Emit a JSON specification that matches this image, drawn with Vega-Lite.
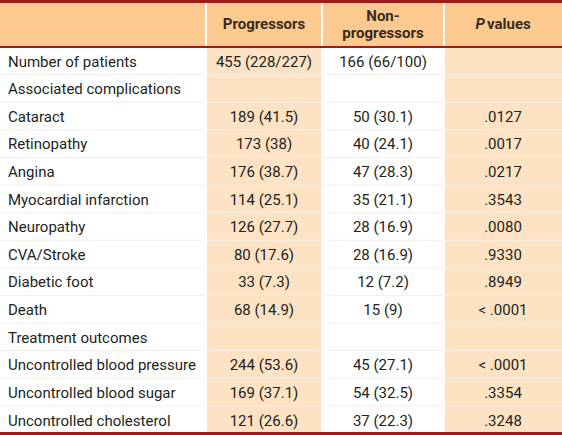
{
  "$schema": "https://vega.github.io/schema/vega-lite/v6.json",
  "width": 562,
  "height": 435,
  "padding": 0,
  "autosize": {"type": "none"},
  "background": "white",
  "config": {
    "view": {"stroke": null},
    "text": {"font": "Roboto", "fontSize": 15, "color": "#231f20"}
  },
  "data": {
    "values": [
      {"item": "Number of patients", "progressors": "455 (228/227)", "nonprogressors": "166 (66/100)", "p": ""},
      {"item": "Associated complications", "progressors": "", "nonprogressors": "", "p": ""},
      {"item": "Cataract", "progressors": "189 (41.5)", "nonprogressors": "50 (30.1)", "p": ".0127"},
      {"item": "Retinopathy", "progressors": "173 (38)", "nonprogressors": "40 (24.1)", "p": ".0017"},
      {"item": "Angina", "progressors": "176 (38.7)", "nonprogressors": "47 (28.3)", "p": ".0217"},
      {"item": "Myocardial infarction", "progressors": "114 (25.1)", "nonprogressors": "35 (21.1)", "p": ".3543"},
      {"item": "Neuropathy", "progressors": "126 (27.7)", "nonprogressors": "28 (16.9)", "p": ".0080"},
      {"item": "CVA/Stroke", "progressors": "80 (17.6)", "nonprogressors": "28 (16.9)", "p": ".9330"},
      {"item": "Diabetic foot", "progressors": "33 (7.3)", "nonprogressors": "12 (7.2)", "p": ".8949"},
      {"item": "Death", "progressors": "68 (14.9)", "nonprogressors": "15 (9)", "p": "< .0001"},
      {"item": "Treatment outcomes", "progressors": "", "nonprogressors": "", "p": ""},
      {"item": "Uncontrolled blood pressure", "progressors": "244 (53.6)", "nonprogressors": "45 (27.1)", "p": "< .0001"},
      {"item": "Uncontrolled blood sugar", "progressors": "169 (37.1)", "nonprogressors": "54 (32.5)", "p": ".3354"},
      {"item": "Uncontrolled cholesterol", "progressors": "121 (26.6)", "nonprogressors": "37 (22.3)", "p": ".3248"}
    ]
  },
  "transform": [{"window": [{"op": "row_number", "as": "idx"}]}],
  "layer": [
    {
      "data": {"values": [{}]},
      "mark": {"type": "rect", "fill": "#fcca90"},
      "encoding": {
        "x": {"datum": 0, "type": "quantitative", "scale": {"domain": [0, 1, 2, 3, 4], "range": [0, 206, 322, 444, 562]}, "axis": null},
        "x2": {"datum": 4},
        "y": {"datum": -1, "type": "quantitative", "scale": {"domain": [-1, 0, 14], "range": [1.5, 47, 433.5]}, "axis": null},
        "y2": {"datum": 0}
      }
    },
    {
      "data": {"values": [{}]},
      "mark": {"type": "rect", "fill": "#fde2c3"},
      "encoding": {
        "x": {"datum": 1, "type": "quantitative", "scale": {"domain": [0, 1, 2, 3, 4], "range": [0, 206, 322, 444, 562]}, "axis": null},
        "x2": {"datum": 2},
        "y": {"datum": 0, "type": "quantitative", "scale": {"domain": [-1, 0, 14], "range": [1.5, 47, 433.5]}, "axis": null},
        "y2": {"datum": 14}
      }
    },
    {
      "data": {"values": [{}]},
      "mark": {"type": "rect", "fill": "#fde2c3"},
      "encoding": {
        "x": {"datum": 3, "type": "quantitative", "scale": {"domain": [0, 1, 2, 3, 4], "range": [0, 206, 322, 444, 562]}, "axis": null},
        "x2": {"datum": 4},
        "y": {"datum": 0, "type": "quantitative", "scale": {"domain": [-1, 0, 14], "range": [1.5, 47, 433.5]}, "axis": null},
        "y2": {"datum": 14}
      }
    },
    {
      "mark": {"type": "rule", "stroke": "#f3efea", "strokeWidth": 1},
      "encoding": {
        "x": {"datum": 0, "type": "quantitative", "scale": {"domain": [0, 1, 2, 3, 4], "range": [0, 206, 322, 444, 562]}, "axis": null},
        "x2": {"datum": 4},
        "y": {"field": "idx", "type": "quantitative", "scale": {"domain": [-1, 0, 14], "range": [1.5, 47, 433.5]}, "axis": null}
      }
    },
    {
      "data": {"values": [{"b": 1}, {"b": 2}, {"b": 3}]},
      "mark": {"type": "rule", "stroke": "white", "strokeWidth": 2},
      "encoding": {
        "x": {"field": "b", "type": "quantitative", "scale": {"domain": [0, 1, 2, 3, 4], "range": [0, 206, 322, 444, 562]}, "axis": null},
        "y": {"datum": -1, "type": "quantitative", "scale": {"domain": [-1, 0, 14], "range": [1.5, 47, 433.5]}, "axis": null},
        "y2": {"datum": 14}
      }
    },
    {
      "data": {"values": [{"r": -1, "w": 3}, {"r": 0, "w": 2}, {"r": 14, "w": 3}]},
      "mark": {"type": "rule", "stroke": "#9c1b1b"},
      "encoding": {
        "x": {"datum": 0, "type": "quantitative", "scale": {"domain": [0, 1, 2, 3, 4], "range": [0, 206, 322, 444, 562]}, "axis": null},
        "x2": {"datum": 4},
        "y": {"field": "r", "type": "quantitative", "scale": {"domain": [-1, 0, 14], "range": [1.5, 47, 433.5]}, "axis": null},
        "strokeWidth": {"field": "w", "type": "quantitative", "scale": null, "legend": null}
      }
    },
    {
      "data": {"values": [{}]},
      "mark": {"type": "text", "fontWeight": "bold", "color": "#3a2a1c", "baseline": "middle"},
      "encoding": {
        "x": {"datum": 1.5, "type": "quantitative", "scale": {"domain": [0, 1, 2, 3, 4], "range": [0, 206, 322, 444, 562]}, "axis": null},
        "y": {"datum": -0.5, "type": "quantitative", "scale": {"domain": [-1, 0, 14], "range": [1.5, 47, 433.5]}, "axis": null},
        "text": {"value": "Progressors"}
      }
    },
    {
      "data": {"values": [{}]},
      "mark": {"type": "text", "fontWeight": "bold", "color": "#3a2a1c", "baseline": "middle", "lineHeight": 17, "dy": -8},
      "encoding": {
        "x": {"datum": 2.5, "type": "quantitative", "scale": {"domain": [0, 1, 2, 3, 4], "range": [0, 206, 322, 444, 562]}, "axis": null},
        "y": {"datum": -0.5, "type": "quantitative", "scale": {"domain": [-1, 0, 14], "range": [1.5, 47, 433.5]}, "axis": null},
        "text": {"value": ["Non-", "progressors"]}
      }
    },
    {
      "data": {"values": [{}]},
      "mark": {"type": "text", "fontWeight": "bold", "fontStyle": "italic", "color": "#3a2a1c", "baseline": "middle", "align": "right", "dx": -18},
      "encoding": {
        "x": {"datum": 3.5, "type": "quantitative", "scale": {"domain": [0, 1, 2, 3, 4], "range": [0, 206, 322, 444, 562]}, "axis": null},
        "y": {"datum": -0.5, "type": "quantitative", "scale": {"domain": [-1, 0, 14], "range": [1.5, 47, 433.5]}, "axis": null},
        "text": {"value": "P"}
      }
    },
    {
      "data": {"values": [{}]},
      "mark": {"type": "text", "fontWeight": "bold", "color": "#3a2a1c", "baseline": "middle", "align": "left", "dx": -16},
      "encoding": {
        "x": {"datum": 3.5, "type": "quantitative", "scale": {"domain": [0, 1, 2, 3, 4], "range": [0, 206, 322, 444, 562]}, "axis": null},
        "y": {"datum": -0.5, "type": "quantitative", "scale": {"domain": [-1, 0, 14], "range": [1.5, 47, 433.5]}, "axis": null},
        "text": {"value": "values"}
      }
    },
    {
      "mark": {"type": "text", "align": "left", "baseline": "alphabetic", "dx": 8, "dy": -8},
      "encoding": {
        "x": {"datum": 0, "type": "quantitative", "scale": {"domain": [0, 1, 2, 3, 4], "range": [0, 206, 322, 444, 562]}, "axis": null},
        "y": {"field": "idx", "type": "quantitative", "scale": {"domain": [-1, 0, 14], "range": [1.5, 47, 433.5]}, "axis": null},
        "text": {"field": "item"}
      }
    },
    {
      "mark": {"type": "text", "align": "center", "baseline": "alphabetic", "dy": -8},
      "encoding": {
        "x": {"datum": 1.5, "type": "quantitative", "scale": {"domain": [0, 1, 2, 3, 4], "range": [0, 206, 322, 444, 562]}, "axis": null},
        "y": {"field": "idx", "type": "quantitative", "scale": {"domain": [-1, 0, 14], "range": [1.5, 47, 433.5]}, "axis": null},
        "text": {"field": "progressors"}
      }
    },
    {
      "mark": {"type": "text", "align": "center", "baseline": "alphabetic", "dy": -8},
      "encoding": {
        "x": {"datum": 2.5, "type": "quantitative", "scale": {"domain": [0, 1, 2, 3, 4], "range": [0, 206, 322, 444, 562]}, "axis": null},
        "y": {"field": "idx", "type": "quantitative", "scale": {"domain": [-1, 0, 14], "range": [1.5, 47, 433.5]}, "axis": null},
        "text": {"field": "nonprogressors"}
      }
    },
    {
      "mark": {"type": "text", "align": "center", "baseline": "alphabetic", "dy": -8},
      "encoding": {
        "x": {"datum": 3.5, "type": "quantitative", "scale": {"domain": [0, 1, 2, 3, 4], "range": [0, 206, 322, 444, 562]}, "axis": null},
        "y": {"field": "idx", "type": "quantitative", "scale": {"domain": [-1, 0, 14], "range": [1.5, 47, 433.5]}, "axis": null},
        "text": {"field": "p"}
      }
    }
  ]
}
